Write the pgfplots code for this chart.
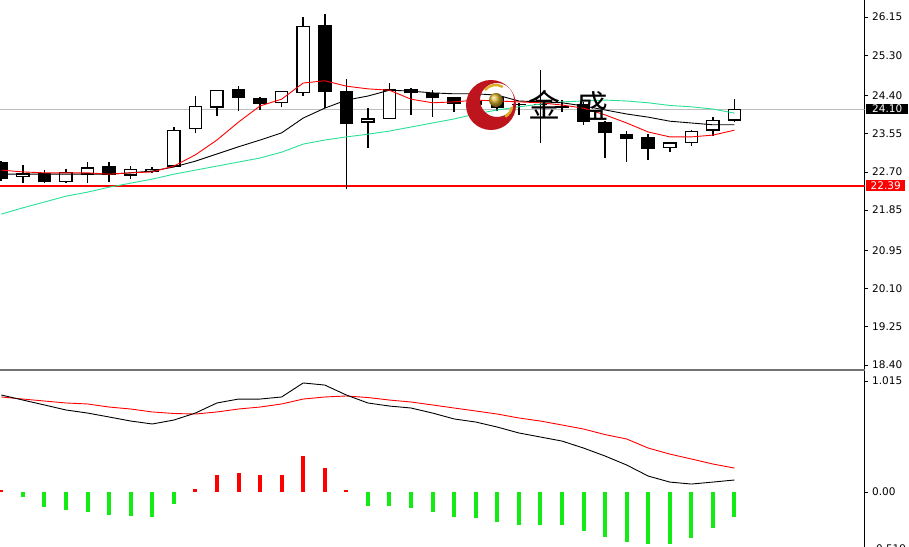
\documentclass[border=0pt]{standalone}
\usepackage{fontspec}
\setmainfont{DejaVu Sans}
\newfontfamily\cjk{Noto Sans CJK SC}
\usepackage{pgfplots}
\usepackage{pgfplotstable}
\pgfplotsset{compat=1.18}
\definecolor{magreen}{RGB}{40,225,150}
\definecolor{histgreen}{RGB}{20,235,20}
\definecolor{mtred}{RGB}{255,0,0}
\definecolor{lvlgray}{RGB}{190,190,190}
\definecolor{logored}{RGB}{190,20,30}
\definecolor{gold}{RGB}{215,175,40}
\newcommand\tf{\fontsize{10.5bp}{12bp}\selectfont}

\pgfplotstableread{
i H L
0 22.95 22.50
1 22.85 22.45
2 22.74 22.45
3 22.77 22.45
4 22.92 22.45
5 22.92 22.47
6 22.83 22.54
7 22.80 22.67
8 23.71 22.80
9 24.40 23.56
10 24.52 23.95
11 24.61 24.06
12 24.36 24.08
13 24.50 24.15
14 26.16 24.38
15 26.22 24.13
16 24.78 22.32
17 24.12 23.23
18 24.67 23.87
19 24.56 23.97
20 24.52 23.93
21 24.37 24.03
22 24.35 24.05
23 24.40 24.05
24 24.24 23.97
25 24.97 23.34
26 24.30 24.03
27 24.25 23.75
28 23.83 23.00
29 23.62 22.93
30 23.54 22.97
31 23.37 23.15
32 23.63 23.28
33 23.92 23.50
34 24.32 23.82
}\wicks

\pgfplotstableread{
i lo hi
1 22.58 22.67
3 22.47 22.70
4 22.64 22.80
6 22.62 22.76
7 22.69 22.76
8 22.82 23.64
9 23.65 24.17
10 24.13 24.52
13 24.24 24.50
14 24.46 25.96
17 23.80 23.89
18 23.88 24.54
31 23.23 23.36
32 23.34 23.62
33 23.62 23.86
34 23.84 24.11
}\upbodies

\pgfplotstableread{
i lo hi
0 22.54 22.92
2 22.47 22.67
5 22.64 22.84
11 24.34 24.54
12 24.21 24.35
15 24.49 25.97
16 23.76 24.51
19 24.45 24.55
20 24.34 24.45
21 24.21 24.36
22 24.18 24.28
23 24.12 24.37
24 24.19 24.22
25 24.19 24.22
26 24.13 24.16
27 23.82 24.21
28 23.56 23.82
29 23.43 23.54
30 23.22 23.47
}\downbodies

\pgfplotstableread{
i red black green
0 22.74 22.65 21.76
1 22.70 22.65 21.90
2 22.68 22.65 22.03
3 22.68 22.65 22.16
4 22.68 22.65 22.25
5 22.65 22.65 22.36
6 22.68 22.68 22.45
7 22.70 22.72 22.54
8 22.83 22.81 22.65
9 23.08 22.94 22.74
10 23.41 23.10 22.83
11 23.81 23.26 22.92
12 24.17 23.41 23.01
13 24.32 23.57 23.14
14 24.68 23.90 23.32
15 24.73 24.12 23.41
16 24.61 24.30 23.48
17 24.55 24.39 23.54
18 24.52 24.52 23.61
19 24.32 24.50 23.70
20 24.24 24.46 23.79
21 24.26 24.44 23.88
22 24.30 24.44 23.99
23 24.28 24.41 24.08
24 24.26 24.28 24.15
25 24.24 24.26 24.21
26 24.19 24.24 24.26
27 24.12 24.17 24.28
28 23.97 24.08 24.30
29 23.79 23.99 24.28
30 23.59 23.92 24.24
31 23.48 23.83 24.18
32 23.48 23.79 24.15
33 23.52 23.75 24.10
34 23.63 23.75 24.01
}\ma

\pgfplotstableread{
i dif dea
0 0.887 0.869
1 0.841 0.850
2 0.796 0.832
3 0.750 0.814
4 0.722 0.805
5 0.686 0.777
6 0.649 0.759
7 0.622 0.732
8 0.658 0.718
9 0.722 0.713
10 0.814 0.732
11 0.850 0.759
12 0.850 0.777
13 0.869 0.805
14 0.997 0.850
15 0.978 0.869
16 0.887 0.878
17 0.814 0.864
18 0.786 0.841
19 0.768 0.823
20 0.722 0.796
21 0.668 0.768
22 0.640 0.741
23 0.594 0.713
24 0.540 0.677
25 0.503 0.649
26 0.466 0.613
27 0.402 0.576
28 0.329 0.525
29 0.247 0.485
30 0.146 0.402
31 0.091 0.347
32 0.073 0.302
33 0.091 0.256
34 0.110 0.219
}\macd

\pgfplotstableread{
i h
0 0.020
9 0.025
10 0.155
11 0.176
12 0.155
13 0.155
14 0.332
15 0.222
16 0.015
}\histpos

\pgfplotstableread{
i h
1 -0.043
2 -0.134
3 -0.165
4 -0.180
5 -0.210
6 -0.217
7 -0.226
8 -0.112
17 -0.125
18 -0.125
19 -0.144
20 -0.186
21 -0.226
22 -0.240
23 -0.272
24 -0.302
25 -0.302
26 -0.302
27 -0.354
28 -0.409
29 -0.454
30 -0.479
31 -0.479
32 -0.418
33 -0.332
34 -0.226
}\histneg

\pgfplotsset{
  mtaxis/.style={
    scale only axis, width=864.5bp,
    xmin=-0.06, xmax=40.03,
    axis x line=none,
    axis y line*=right,
    y axis line style={black, line width=0.8bp, -},
    ytick pos=right, yticklabel pos=right,
    tick align=outside,
    major tick length=3.5bp,
    ytick style={black, line width=0.8bp},
    yticklabel style={font=\tf, anchor=west, inner sep=0pt, xshift=4bp},
    /pgf/number format/assume math mode=true,
  },
  errbars/.style={draw=none, mark=none, forget plot,
    error bars/.cd, y dir=plus, y explicit, error mark=none,
    error bar style={#1}},
}

\begin{document}
\begin{tikzpicture}
\fill[white] (0bp,0bp) rectangle (909bp,547bp);
% ---------- price panel ----------
\begin{axis}[mtaxis, at={(0bp,177bp)}, anchor=south west, height=370bp,
  ymin=18.289, ymax=26.529,
  ytick={26.15,25.30,24.40,23.55,22.70,21.85,20.95,20.10,19.25,18.40},
  yticklabels={26.15,25.30,24.40,23.55,22.70,21.85,20.95,20.10,19.25,18.40}]
\addplot[lvlgray, line width=0.8bp, forget plot] coordinates {(-1,24.10) (41,24.10)};
\addplot[mtred, line width=2.2bp, forget plot] coordinates {(-1,22.39) (41,22.39)};
% wicks
\addplot[errbars={draw=black, line width=1.6bp}]
  table[x=i, y=L, y error expr=\thisrow{H}-\thisrow{L}] {\wicks};
% bearish bodies
\addplot[errbars={draw=black, line width=13.5bp}]
  table[x=i, y=lo, y error expr=\thisrow{hi}-\thisrow{lo}] {\downbodies};
% bullish bodies: outline then white inside
\addplot[errbars={draw=black, line width=13.5bp}]
  table[x=i, y=lo, y error expr=\thisrow{hi}-\thisrow{lo}] {\upbodies};
\addplot[errbars={draw=white, line width=11bp}]
  table[x=i, y expr=\thisrow{lo}+0.028, y error expr=\thisrow{hi}-\thisrow{lo}-0.056] {\upbodies};
% moving averages
\addplot[magreen, line width=0.9bp, forget plot] table[x=i, y=green] {\ma};
\addplot[black, line width=0.9bp, forget plot] table[x=i, y=black] {\ma};
\addplot[mtred, line width=0.9bp, forget plot] table[x=i, y=red] {\ma};
\coordinate (t2410) at (axis cs:40.03,24.10);
\coordinate (t2239) at (axis cs:40.03,22.39);
\end{axis}
% ---------- MACD panel ----------
\begin{axis}[mtaxis, at={(0bp,-3bp)}, anchor=south west, height=180bp,
  ymin=-0.53, ymax=1.1156,
  ytick={1.015,0,-0.519}, yticklabels={1.015,0.00,-0.519}]
\addplot[ycomb, mtred, line width=4bp, forget plot] table[x=i, y=h] {\histpos};
\addplot[ycomb, histgreen, line width=4bp, forget plot] table[x=i, y=h] {\histneg};
\addplot[mtred, line width=0.9bp, forget plot] table[x=i, y=dea] {\macd};
\addplot[black, line width=0.9bp, forget plot] table[x=i, y=dif] {\macd};
\end{axis}
% separator between panels
\draw[line width=2.6bp, black!55] (0bp,177bp) -- (864.5bp,177bp);
% price tags
\node[fill=black, text=white, font=\tf, inner sep=0pt, minimum width=42bp,
  minimum height=10.5bp, anchor=west] at ([xshift=1.5bp]t2410) {24.10};
\node[fill=mtred, text=white, font=\tf, inner sep=0pt, minimum width=39bp,
  minimum height=11bp, anchor=west] at ([xshift=1.5bp]t2239) {22.39};
% logo watermark
\fill[logored, even odd rule] (491bp,442bp) circle (25bp) (497bp,447bp) circle (17bp);
\draw[gold, line width=2.5bp] (485bp,457bp) arc[start angle=140, end angle=60, radius=14bp];
\draw[gold, line width=2.5bp] (512bp,440bp) arc[start angle=-10, end angle=-60, radius=14bp];
\shade[ball color=gold] (496bp,447bp) circle (7bp);
\node[font=\cjk\fontsize{32bp}{32bp}\selectfont, inner sep=0pt] at (544bp,442bp) {金};
\node[font=\cjk\fontsize{32bp}{32bp}\selectfont, inner sep=0pt] at (592bp,441bp) {盛};
\pgfresetboundingbox
\useasboundingbox (0bp,0bp) rectangle (909bp,547bp);
\end{tikzpicture}
\end{document}
